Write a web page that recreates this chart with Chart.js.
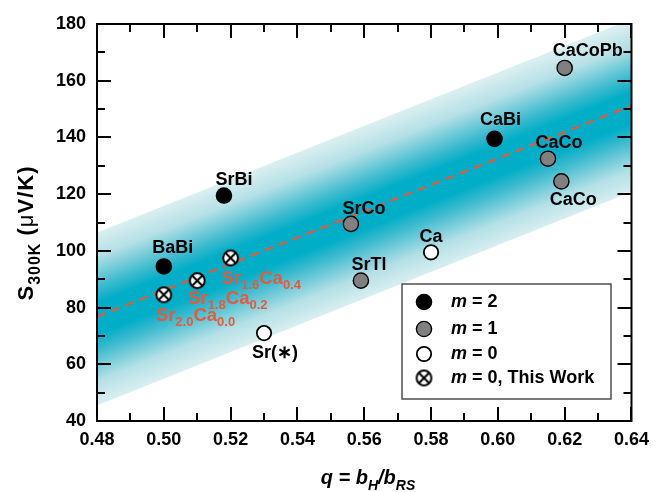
<!DOCTYPE html>
<html>
<head>
<meta charset="utf-8">
<script src="https://cdn.jsdelivr.net/npm/chart.js@4.4.1/dist/chart.umd.min.js"></script>
<style>
  html, body { margin: 0; padding: 0; background: #fff; }
  #box { width: 657px; height: 492px; }
</style>
</head>
<body>
<div id="box"><canvas id="myChart" width="657" height="492"></canvas></div>
<script>
// ---- data ----
// m = 2
var m2Names = ['BaBi', 'SrBi', 'CaBi'];
var m2Q = [0.500, 0.518, 0.599];
var m2S = [94.5, 119.5, 139.5];
// m = 1
var m1Names = ['SrCo', 'SrTl', 'CaCo', 'CaCo', 'CaCoPb'];
var m1Q = [0.556, 0.559, 0.615, 0.619, 0.620];
var m1S = [109.5, 89.5, 132.5, 124.5, 164.5];
// m = 0
var m0Names = ['Sr(\u2217)', 'Ca'];
var m0Q = [0.530, 0.580];
var m0S = [71, 99.5];
// m = 0, this work (Sr_xCa_y)
var workSr = ['2.0', '1.8', '1.6'];
var workCa = ['0.0', '0.2', '0.4'];
var workQ = [0.500, 0.510, 0.520];
var workS = [84.5, 89.5, 97.5];
// linear fit and the shaded band around it
var fitQ = [0.48, 0.64];
var fitS = [76.8, 151.2];
var bandHigh = [106.5, 181.7];
var bandLow = [45.5, 120.8];
// axes
var xTicks = [0.48, 0.50, 0.52, 0.54, 0.56, 0.58, 0.60, 0.62, 0.64];
var yTicks = [40, 60, 80, 100, 120, 140, 160, 180];
var legendNames = ['2', '1', '0', '0, This Work'];

var RED = '#e8583a';
var FONT = '"Liberation Sans", Arial, sans-serif';

// label offsets in pixels (style only)
var m2Off = [[9, -18], [10, -16], [6, -19]];
var m1Off = [[13, -15], [8, -16], [11, -16], [12, 19], [23, -17]];
var m0Off = [[11, 20], [0, -15]];
var workOff = [[-8, 26], [-9, 23], [-9, 26]];

function pts(qs, ss) {
    var out = [];
    for (var i = 0; i < qs.length; i++) out.push({x: qs[i], y: ss[i]});
    return out;
}

// circle with an X inside, for "this work"
function crossCircle() {
    var c = document.createElement('canvas');
    c.width = 19; c.height = 19;
    var g = c.getContext('2d');
    g.lineWidth = 2;
    g.strokeStyle = '#000';
    g.fillStyle = '#fff';
    g.beginPath(); g.arc(9.5, 9.5, 7.4, 0, Math.PI * 2); g.fill(); g.stroke();
    g.beginPath();
    g.moveTo(4.3, 4.3); g.lineTo(14.7, 14.7);
    g.moveTo(14.7, 4.3); g.lineTo(4.3, 14.7);
    g.stroke();
    return c;
}
var crossImg = crossCircle();

function bandGradient(context) {
    var chart = context.chart;
    if (!chart.chartArea) return 'rgba(0,170,195,0.5)';
    var sx = chart.scales.x, sy = chart.scales.y;
    var x0 = sx.getPixelForValue(fitQ[0]), y0 = sy.getPixelForValue(fitS[0]);
    var x1 = sx.getPixelForValue(fitQ[1]), y1 = sy.getPixelForValue(fitS[1]);
    var dx = x1 - x0, dy = y1 - y0, len = Math.sqrt(dx * dx + dy * dy);
    var nx = -dy / len, ny = dx / len;
    var top = sy.getPixelForValue(bandHigh[0]), bot = sy.getPixelForValue(bandLow[0]);
    var cy = (top + bot) / 2;
    var w = (bot - top) / 2 * Math.abs(dx) / len;
    var g = chart.ctx.createLinearGradient(x0 + nx * w, cy + ny * w, x0 - nx * w, cy - ny * w);
    g.addColorStop(0, 'rgb(218,239,241)');
    g.addColorStop(0.14, 'rgb(180,224,230)');
    g.addColorStop(0.32, 'rgb(60,186,206)');
    g.addColorStop(0.41, 'rgb(0,174,199)');
    g.addColorStop(0.59, 'rgb(0,174,199)');
    g.addColorStop(0.68, 'rgb(60,186,206)');
    g.addColorStop(0.86, 'rgb(180,224,230)');
    g.addColorStop(1, 'rgb(218,239,241)');
    return g;
}

// text with subscripts: parts = [[text, isSub, weight], ...]
function richText(ctx, parts, x, y, size, italic, align) {
    function fontFor(p) {
        var sz = p[1] ? Math.round(size * 0.72) : size;
        return (italic ? 'italic ' : '') + (p[2] || 'bold') + ' ' + sz + 'px ' + FONT;
    }
    var total = 0, i;
    for (i = 0; i < parts.length; i++) {
        ctx.font = fontFor(parts[i]);
        total += ctx.measureText(parts[i][0]).width;
    }
    var cx = align === 'center' ? x - total / 2 : x;
    ctx.textAlign = 'left';
    ctx.textBaseline = 'alphabetic';
    for (i = 0; i < parts.length; i++) {
        ctx.font = fontFor(parts[i]);
        ctx.fillText(parts[i][0], cx, y + (parts[i][1] ? size * 0.3 : 0));
        cx += ctx.measureText(parts[i][0]).width;
    }
}

function drawMarker(ctx, kind, x, y) {
    if (kind === 3) { ctx.drawImage(crossImg, x - 9.5, y - 9.5); return; }
    ctx.beginPath();
    ctx.arc(x, y, kind === 2 ? 7.2 : 7.6, 0, Math.PI * 2);
    ctx.fillStyle = ['#000', '#808080', '#fff'][kind];
    ctx.fill();
    ctx.lineWidth = kind === 2 ? 1.8 : 1.4;
    ctx.strokeStyle = '#000';
    ctx.stroke();
}

var decorations = {
    id: 'decorations',
    afterDatasetsDraw: function(chart) {
        var ctx = chart.ctx, a = chart.chartArea;
        var sx = chart.scales.x, sy = chart.scales.y;
        var i;
        ctx.save();
        // frame + inward ticks
        ctx.strokeStyle = '#000';
        ctx.lineWidth = 2;
        ctx.strokeRect(a.left, a.top, a.right - a.left, a.bottom - a.top);
        ctx.beginPath();
        for (i = 0; i <= 16; i++) {
            var q = 0.48 + i * 0.01;
            var px = Math.round(sx.getPixelForValue(q));
            var L = i % 2 === 0 ? 14 : 8;
            ctx.moveTo(px, a.bottom); ctx.lineTo(px, a.bottom - L);
            ctx.moveTo(px, a.top); ctx.lineTo(px, a.top + L);
        }
        for (i = 0; i <= 14; i++) {
            var v = 40 + i * 10;
            var py = Math.round(sy.getPixelForValue(v));
            var L2 = i % 2 === 0 ? 14 : 8;
            ctx.moveTo(a.left, py); ctx.lineTo(a.left + L2, py);
            ctx.moveTo(a.right, py); ctx.lineTo(a.right - L2, py);
        }
        ctx.stroke();

        // point labels
        ctx.fillStyle = '#000';
        ctx.font = 'bold 18px ' + FONT;
        ctx.textAlign = 'center';
        ctx.textBaseline = 'middle';
        var groups = [[m2Names, m2Q, m2S, m2Off], [m1Names, m1Q, m1S, m1Off], [m0Names, m0Q, m0S, m0Off]];
        groups.forEach(function(gp) {
            for (var k = 0; k < gp[0].length; k++) {
                ctx.fillText(gp[0][k], sx.getPixelForValue(gp[1][k]) + gp[3][k][0], sy.getPixelForValue(gp[2][k]) + gp[3][k][1]);
            }
        });
        ctx.fillStyle = RED;
        for (i = 0; i < workQ.length; i++) {
            richText(ctx, [['Sr', false], [workSr[i], true], ['Ca', false], [workCa[i], true]],
                sx.getPixelForValue(workQ[i]) + workOff[i][0], sy.getPixelForValue(workS[i]) + workOff[i][1], 18.5, false, 'left');
        }

        // legend box
        ctx.fillStyle = '#fff';
        ctx.fillRect(402, 284, 209, 115);
        ctx.strokeStyle = '#444';
        ctx.lineWidth = 1.4;
        ctx.strokeRect(402, 284, 209, 115);
        var rows = [302, 329, 354, 378];
        for (i = 0; i < legendNames.length; i++) {
            drawMarker(ctx, i, 424, rows[i]);
            ctx.fillStyle = '#000';
            ctx.textAlign = 'left';
            ctx.textBaseline = 'middle';
            ctx.font = 'italic bold 18px ' + FONT;
            ctx.fillText('m', 451, rows[i]);
            var mw = ctx.measureText('m').width;
            ctx.font = 'bold 18px ' + FONT;
            ctx.fillText(' = ' + legendNames[i], 451 + mw, rows[i]);
        }

        // axis titles
        ctx.fillStyle = '#000';
        richText(ctx, [['q', false], [' = b', false], ['H', true], ['/b', false], ['RS', true]], 368, 484, 20, true, 'center');
        ctx.translate(33, 233);
        ctx.rotate(-Math.PI / 2);
        ctx.letterSpacing = '1px';
        richText(ctx, [['S', false], ['300K', true], [' (', false], ['\u03bc', false, 'normal'], ['V/K)', false]], 0, 0, 22, false, 'center');
        ctx.letterSpacing = '0px';
        ctx.restore();
    }
};

new Chart(document.getElementById('myChart'), {
    type: 'line',
    data: {
        datasets: [
            {
                label: 'm = 2', data: pts(m2Q, m2S), showLine: false, order: 0,
                pointRadius: 7.6, pointHoverRadius: 7.6, pointBackgroundColor: '#000',
                pointBorderColor: '#000', pointBorderWidth: 1.4
            },
            {
                label: 'm = 1', data: pts(m1Q, m1S), showLine: false, order: 0,
                pointRadius: 7.6, pointHoverRadius: 7.6, pointBackgroundColor: '#808080',
                pointBorderColor: '#000', pointBorderWidth: 1.4
            },
            {
                label: 'm = 0', data: pts(m0Q, m0S), showLine: false, order: 0,
                pointRadius: 7.2, pointHoverRadius: 7.2, pointBackgroundColor: '#fff',
                pointBorderColor: '#000', pointBorderWidth: 1.8
            },
            {
                label: 'm = 0, This Work', data: pts(workQ, workS), showLine: false, order: 0,
                pointStyle: crossImg, pointRadius: 9
            },
            {
                label: 'fit', data: pts(fitQ, fitS), order: 5,
                borderColor: RED, borderWidth: 2.2, borderDash: [9, 6], pointRadius: 0, fill: false
            },
            {
                label: 'band high', data: pts(fitQ, bandHigh), order: 10,
                borderWidth: 0, borderColor: 'rgba(0,0,0,0)', pointRadius: 0,
                fill: '+1', backgroundColor: bandGradient
            },
            {
                label: 'band low', data: pts(fitQ, bandLow), order: 11,
                borderWidth: 0, borderColor: 'rgba(0,0,0,0)', pointRadius: 0, fill: false
            }
        ]
    },
    options: {
        responsive: false,
        animation: false,
        events: [],
        layout: { padding: { top: 24, right: 24, left: 0, bottom: 0 } },
        plugins: { legend: { display: false }, tooltip: { enabled: false } },
        scales: {
            x: {
                type: 'linear', min: 0.48, max: 0.64,
                afterFit: function(s) { s.height = 71; },
                afterBuildTicks: function(s) { s.ticks = xTicks.map(function(v) { return {value: v}; }); },
                grid: { display: false, drawTicks: false },
                border: { display: false },
                ticks: {
                    padding: 8, color: '#000',
                    font: { family: FONT, size: 18, weight: 'bold' },
                    callback: function(v) { return v.toFixed(2); }
                }
            },
            y: {
                min: 40, max: 180,
                afterFit: function(s) { s.width = 97; },
                afterBuildTicks: function(s) { s.ticks = yTicks.map(function(v) { return {value: v}; }); },
                grid: { display: false, drawTicks: false },
                border: { display: false },
                ticks: {
                    padding: 11, color: '#000',
                    font: { family: FONT, size: 18, weight: 'bold' }
                }
            }
        }
    },
    plugins: [decorations]
});
</script>
</body>
</html>
